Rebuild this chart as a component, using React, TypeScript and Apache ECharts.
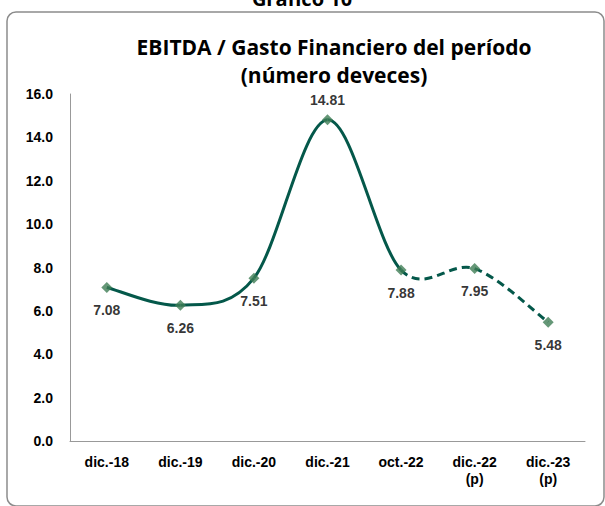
import React, { useEffect, useRef } from "react";
import * as echarts from "echarts";

const categories = ["dic.-18", "dic.-19", "dic.-20", "dic.-21", "oct.-22", "dic.-22\n(p)", "dic.-23\n(p)"];
const values = [7.08, 6.26, 7.51, 14.81, 7.88, 7.95, 5.48];
const firstProjectedSegment = 4; // segments from oct.-22 onward are dashed
const yTicks = { min: 0, max: 16, interval: 2 };

const LINE = "#04584A";
const MARK = "#3E7D55";
const FONT = "'Liberation Sans', Arial, sans-serif";

export default function App() {
  const ref = useRef<HTMLDivElement>(null);
  useEffect(() => {
    document.body.style.margin = "0";
    const chart = echarts.init(ref.current!, null, { renderer: "svg" });
    const n = values.length;
    const renderSeg = (params: any, api: any) => {
      const i = params.dataIndex;
      if (i >= n - 1) return null;
      const pt = (j: number) => {
        const k = Math.max(0, Math.min(n - 1, j));
        return api.coord([k, values[k]]);
      };
      const p0 = pt(i - 1), p1 = pt(i), p2 = pt(i + 1), p3 = pt(i + 2);
      const t = 1 / 6;
      return {
        type: "bezierCurve",
        shape: {
          x1: p1[0], y1: p1[1],
          cpx1: p1[0] + (p2[0] - p0[0]) * t,
          cpy1: p1[1] + (p2[1] - p0[1]) * t,
          cpx2: p2[0] - (p3[0] - p1[0]) * t,
          cpy2: p2[1] - (p3[1] - p1[1]) * t,
          x2: p2[0], y2: p2[1],
        },
        style: {
          fill: "none",
          stroke: LINE,
          lineWidth: 3,
          lineDash: i >= firstProjectedSegment ? [8, 5] : null,
        },
      };
    };
    chart.setOption({
      animation: false,
      backgroundColor: "#ffffff",
      title: {
        text: "EBITDA / Gasto Financiero del período\n(número deveces)",
        left: 329,
        textAlign: "center",
        top: 28,
        textStyle: {
          fontFamily: "'Open Sans', sans-serif",
          fontWeight: "bold",
          fontSize: 21,
          lineHeight: 28,
          color: "#000",
        },
      },
      graphic: [
        {
          type: "rect",
          shape: { x: 7, y: 12, width: 597, height: 494, r: 9 },
          style: { fill: "none", stroke: "#8c8c8c", lineWidth: 1.5 },
          z: -1,
        },
        {
          type: "text",
          x: 302,
          y: -12,
          style: {
            text: "Gráfico 10",
            fontFamily: "'Open Sans', sans-serif",
            fontWeight: "bold",
            fontSize: 20,
            fill: "#000",
            textAlign: "center",
          },
        },
      ],
      grid: { left: 70, right: 20, top: 94, bottom: 65 },
      xAxis: {
        type: "category",
        data: categories,
        boundaryGap: true,
        axisLine: { show: true, lineStyle: { color: "#999", width: 1 } },
        axisTick: { show: false },
        axisLabel: {
          interval: 0,
          margin: 12,
          fontFamily: FONT,
          fontWeight: "bold",
          fontSize: 14,
          lineHeight: 17,
          color: "#000",
        },
      },
      yAxis: {
        type: "value",
        min: yTicks.min,
        max: yTicks.max,
        interval: yTicks.interval,
        splitLine: { show: false },
        axisLine: { show: true, lineStyle: { color: "#999", width: 1 } },
        axisTick: { show: false },
        axisLabel: {
          margin: 17,
          formatter: (v: number) => v.toFixed(1),
          fontFamily: FONT,
          fontWeight: "bold",
          fontSize: 14,
          color: "#000",
        },
      },
      series: [
        {
          type: "custom",
          data: values.map((v, i) => [i, v]),
          encode: { x: 0, y: 1 },
          renderItem: renderSeg,
          clip: false,
          z: 2,
        },
        {
          type: "scatter",
          data: values.map((v, i) => ({
            value: v,
            label: { position: i === 3 ? "top" : "bottom", distance: i === 3 ? 7 : 10 },
          })),
          symbol: "diamond",
          symbolSize: 11,
          itemStyle: { color: MARK },
          label: {
            show: true,
            formatter: (p: any) => Number(p.value).toFixed(2),
            fontFamily: FONT,
            fontWeight: "bold",
            fontSize: 14,
            color: "#000",
          },
          z: 3,
        },
      ],
    });
    return () => chart.dispose();
  }, []);
  return <div ref={ref} style={{ width: 605, height: 506 }} />;
}
